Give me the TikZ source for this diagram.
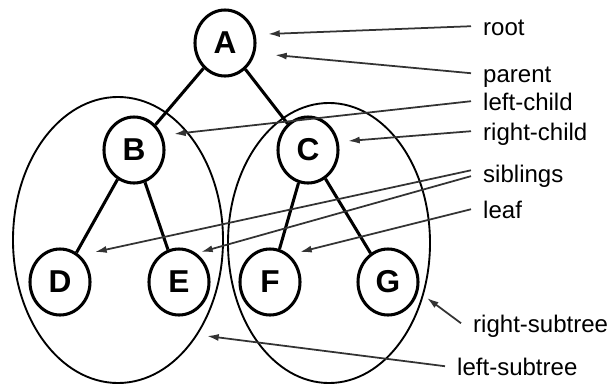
\documentclass[tikz,border=0pt]{standalone}
\usepackage{fontspec}
\setmainfont{Liberation Sans}
\usetikzlibrary{arrows.meta,shapes.geometric}
\tikzset{
  vertex/.style={
    shape = ellipse,
    draw,
    line width = 2.6pt,
    minimum width = 1.8cm,
    minimum height = 1.98cm,
    inner sep = 0pt,
    font = \fontsize{27}{30}\selectfont\bfseries
  },
  branch/.style={
    line width = 2.6pt
  },
  subtree/.style={
    line width = 1.6pt
  },
}
\tikzset{
  pointer/.style={
    draw = black!80,
    line width = 1.5pt,
    -{Latex[length=10pt,width=6pt]}
  },
  term/.style={
    anchor = base west,
    inner xsep = 0.36cm,
    text height = 16pt,
    text depth = 1pt,
    font = \fontsize{20.5}{24}\selectfont
  }
}

\begin{document}
\begin{tikzpicture}[x=0.03cm,y=-0.03cm]
  \useasboundingbox (0,0) rectangle (613,383);
  % the two subtrees
  \draw[subtree] (118,240) ellipse [x radius=3.15cm, y radius=4.29cm];
  \draw[subtree] (329,243) ellipse [x radius=3.03cm, y radius=4.2cm];
  % the tree
  \foreach \n/\x/\y in {A/225/43,B/134/150,C/308/150,D/60/282,E/179/282,F/270/282,G/388/282}{
    \node[vertex] (\n) at (\x,\y) {\n};
  }
  \foreach \p/\c in {A/B,A/C,B/D,B/E,C/F,C/G}{
    \draw[branch] (\p) -- (\c);
  }
  % the terms
  \node[term] (root) at (471,35) {root};
  \node[term] (parent) at (471,82) {parent};
  \node[term] (lchild) at (471,110) {left-child};
  \node[term] (rchild) at (471,140) {right-child};
  \node[term] (sibl) at (471,182) {siblings};
  \node[term] (leaf) at (471,218) {leaf};
  \node[term] (rsub) at (461,332) {right-subtree};
  \node[term] (lsub) at (445,375) {left-subtree};
  % where the arrows point
  \coordinate (pRoot) at (268,34);
  \coordinate (pParent) at (275,55);
  \coordinate (pLchild) at (174,134);
  \coordinate (pRchild) at (348,141);
  \coordinate (pSiblD) at (95,252);
  \coordinate (pSiblE) at (201,252);
  \coordinate (pLeaf) at (300,252);
  \coordinate (pRsub) at (427,298);
  \coordinate (pLsub) at (207,336);
  \draw[pointer] (root.west) -- (pRoot);
  \draw[pointer] (parent.west) -- (pParent);
  \draw[pointer] (lchild.west) -- (pLchild);
  \draw[pointer] (rchild.west) -- (pRchild);
  \draw[pointer] ([yshift=2.5pt]sibl.west) -- (pSiblD);
  \draw[pointer] ([yshift=-2.5pt]sibl.west) -- (pSiblE);
  \draw[pointer] (leaf.west) -- (pLeaf);
  \draw[pointer] (rsub.west) -- (pRsub);
  \draw[pointer] (lsub.west) -- (pLsub);
\end{tikzpicture}
\end{document}
